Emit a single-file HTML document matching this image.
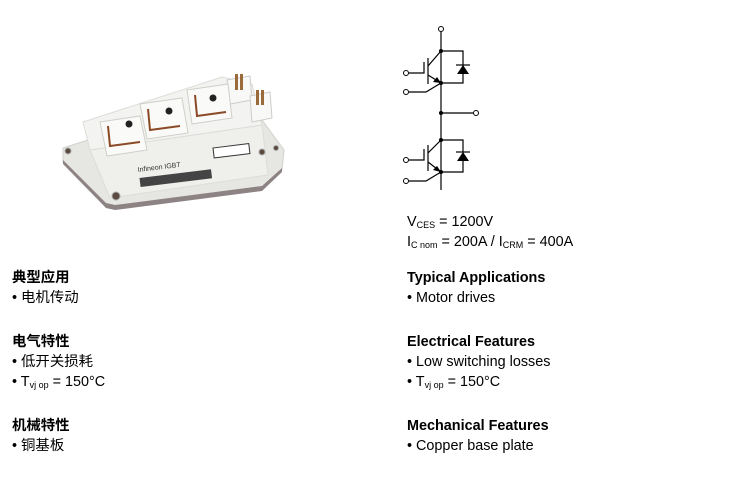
<!DOCTYPE html>
<html><head><meta charset="utf-8"><style>
body{margin:0;width:740px;height:491px;background:#fff;position:relative;overflow:hidden;font-family:"Liberation Sans","Noto Sans CJK SC",sans-serif;color:#000}
.t{position:absolute;font-size:14.4px;line-height:20px;white-space:nowrap}
.b{font-weight:bold}
sub{font-size:9px;vertical-align:-2px}
</style></head><body>
<svg width="740" height="491" style="position:absolute;left:0;top:0">
<!-- base plate -->
<polygon points="63,148 88,140 262,120 284,150 282,170 262,188 115,207 106,205 63,162" fill="#e6e6e2" stroke="#d0d0cc"/>
<polygon points="63,160 106,203 115,205 262,186 282,168 282,172 262,191 115,210 106,208 63,164" fill="#8d8384"/>
<!-- body front face -->
<polygon points="90,150 262,125 268,175 110,198" fill="#efefec" stroke="#dcdcd8"/>
<!-- body top face -->
<polygon points="83,122 222,77 252,84 262,125 90,150" fill="#f3f3f1" stroke="#dcdcd8"/>
<!-- aux connector blocks -->
<polygon points="227,80 250,76 252,100 230,104" fill="#f8f8f6" stroke="#ccc"/>
<polygon points="250,96 270,92 272,118 252,122" fill="#f8f8f6" stroke="#ccc"/>
<rect x="235" y="74" width="3" height="16" fill="#9a6a3a"/><rect x="240" y="74" width="3" height="16" fill="#9a6a3a"/>
<rect x="256" y="90" width="3" height="15" fill="#9a6a3a"/><rect x="261" y="90" width="3" height="15" fill="#9a6a3a"/>
<!-- terminal squares -->
<g fill="#fafaf8" stroke="#cfcfca">
<polygon points="100,122 140,116 147,150 107,156"/>
<polygon points="140,104 182,98 188,133 147,139"/>
<polygon points="187,90 228,84 232,118 192,124"/>
</g>
<g stroke="#8b4a25" stroke-width="2" fill="none">
<polyline points="108,126 110,146 140,142"/>
<polyline points="148,109 150,130 180,126"/>
<polyline points="195,95 197,116 226,112"/>
</g>
<g fill="#222"><circle cx="129" cy="124" r="3.5"/><circle cx="169" cy="111" r="3.5"/><circle cx="213" cy="98" r="3.5"/></g>
<!-- holes -->
<g fill="#5a4a40" stroke="#aaa"><circle cx="68" cy="151" r="3"/><circle cx="116" cy="196" r="4"/><circle cx="262" cy="152" r="3"/><circle cx="276" cy="148" r="2.5"/></g>
<!-- barcode -->
<g transform="rotate(-7 140 182)" fill="#333">
<rect x="140" y="178" width="72" height="9" fill="#444"/>
</g>
<text x="138" y="172" font-size="7" font-family="Liberation Sans" fill="#333" transform="rotate(-7 138 172)">Infineon IGBT</text>
<rect x="213" y="148" width="36" height="10" fill="#fff" stroke="#333" transform="rotate(-7 213 148)"/>
<!-- circuit -->
<g stroke="#000" stroke-width="1.2" fill="none">
<line x1="441" y1="32" x2="441" y2="190"/>
<polyline points="441,51 463,51 463,83 441,83"/>
<polyline points="441,140 463,140 463,172 441,172"/>
<line x1="441" y1="113" x2="473" y2="113"/>
<polyline points="409,73 424,73 424,62"/>
<line x1="428" y1="58" x2="428" y2="84"/>
<line x1="428" y1="66" x2="441" y2="51"/>
<line x1="428" y1="75" x2="441" y2="83"/>
<polyline points="409,92 426,92 441,83"/>
<line x1="456" y1="65" x2="470" y2="65"/>
<polyline points="409,160 424,160 424,149"/>
<line x1="428" y1="145" x2="428" y2="171"/>
<line x1="428" y1="153" x2="441" y2="140"/>
<line x1="428" y1="162" x2="441" y2="172"/>
<polyline points="409,181 426,181 441,172"/>
<line x1="456" y1="152" x2="470" y2="152"/>
</g>
<g fill="#000">
<polygon points="457,74 469,74 463,65"/><polygon points="457,161 469,161 463,152"/>
<polygon points="441,83 433,82 437,77"/><polygon points="441,172 433,170 437,166"/>
<circle cx="441" cy="51" r="2"/><circle cx="441" cy="83" r="2"/><circle cx="441" cy="113" r="2"/><circle cx="441" cy="140" r="2"/><circle cx="441" cy="172" r="2"/>
</g>
<g fill="#fff" stroke="#000"><circle cx="441" cy="29" r="2.5"/><circle cx="406" cy="73" r="2.5"/><circle cx="406" cy="92" r="2.5"/><circle cx="476" cy="113" r="2.5"/><circle cx="406" cy="160" r="2.5"/><circle cx="406" cy="181" r="2.5"/></g>
</svg>
<div class="t" style="left:407px;top:212px">V<sub>CES</sub> = 1200V</div>
<div class="t" style="left:407px;top:232px">I<sub>C nom</sub> = 200A / I<sub>CRM</sub> = 400A</div>

<div class="t b" style="left:12px;top:268px">典型应用</div>
<div class="t" style="left:12px;top:288px">• 电机传动</div>
<div class="t b" style="left:12px;top:332px">电气特性</div>
<div class="t" style="left:12px;top:352px">• 低开关损耗</div>
<div class="t" style="left:12px;top:372px">• T<sub>vj op</sub> = 150°C</div>
<div class="t b" style="left:12px;top:416px">机械特性</div>
<div class="t" style="left:12px;top:436px">• 铜基板</div>

<div class="t b" style="left:407px;top:268px">Typical Applications</div>
<div class="t" style="left:407px;top:288px">• Motor drives</div>
<div class="t b" style="left:407px;top:332px">Electrical Features</div>
<div class="t" style="left:407px;top:352px">• Low switching losses</div>
<div class="t" style="left:407px;top:372px">• T<sub>vj op</sub> = 150°C</div>
<div class="t b" style="left:407px;top:416px">Mechanical Features</div>
<div class="t" style="left:407px;top:436px">• Copper base plate</div>
</body></html>
